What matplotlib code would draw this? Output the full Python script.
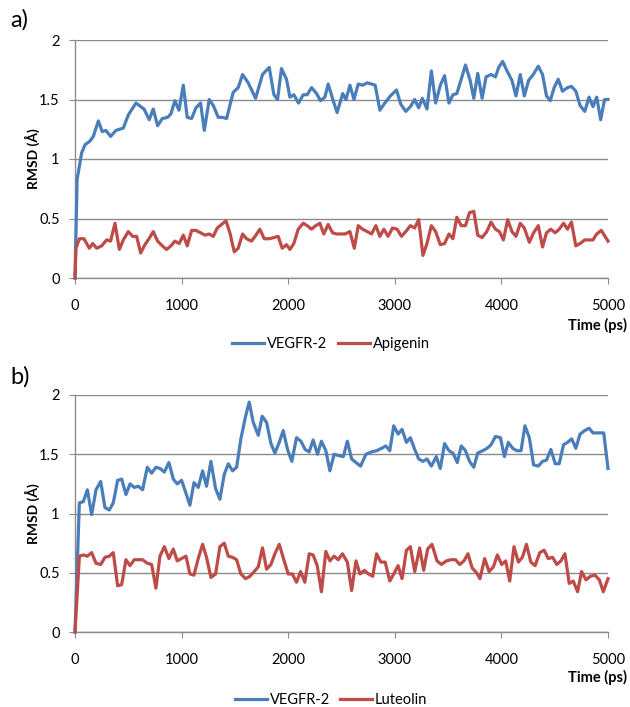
import matplotlib
matplotlib.use("Agg")
import matplotlib.pyplot as plt

# ---------------- Data ----------------
# Panel a) VEGFR-2 (with Apigenin)
a_vegfr_t = [0, 20, 62, 94, 140, 172, 219, 256, 290, 334, 384, 453, 500, 572, 647, 697, 734, 775, 819, 869,
             900, 937, 975, 1016, 1053, 1094, 1134, 1178, 1213, 1259, 1297, 1344, 1384, 1422, 1484, 1531, 1572,
             1625, 1694, 1759, 1822, 1866, 1900, 1937, 1984, 2016, 2053, 2097, 2141, 2178, 2219, 2266, 2303,
             2344, 2375, 2422, 2459, 2511, 2542, 2579, 2617, 2657, 2698, 2741, 2782, 2816, 2860, 2906, 2959,
             3016, 3056, 3103, 3146, 3187, 3224, 3258, 3302, 3343, 3383, 3427, 3467, 3508, 3545, 3582, 3623,
             3663, 3707, 3741, 3778, 3819, 3856, 3903, 3944, 3975, 4012, 4053, 4099, 4137, 4177, 4215, 4255,
             4299, 4346, 4386, 4423, 4458, 4495, 4533, 4573, 4620, 4657, 4698, 4738, 4782, 4822, 4859, 4894,
             4931, 4968, 5000]
a_vegfr_v = [0.0, 0.83, 1.05, 1.12, 1.15, 1.19, 1.32, 1.23, 1.24, 1.19, 1.24, 1.26, 1.37, 1.47, 1.42, 1.33,
             1.42, 1.28, 1.34, 1.35, 1.38, 1.49, 1.41, 1.62, 1.35, 1.34, 1.43, 1.47, 1.24, 1.50, 1.45, 1.35,
             1.35, 1.34, 1.56, 1.60, 1.71, 1.64, 1.51, 1.71, 1.77, 1.54, 1.50, 1.76, 1.67, 1.52, 1.54, 1.47,
             1.54, 1.54, 1.60, 1.55, 1.49, 1.52, 1.63, 1.49, 1.39, 1.55, 1.50, 1.62, 1.50, 1.63, 1.62, 1.64,
             1.63, 1.62, 1.41, 1.47, 1.53, 1.58, 1.46, 1.40, 1.44, 1.50, 1.43, 1.51, 1.42, 1.74, 1.47, 1.62,
             1.70, 1.47, 1.54, 1.55, 1.67, 1.79, 1.66, 1.51, 1.72, 1.51, 1.69, 1.71, 1.69, 1.77, 1.82, 1.74,
             1.66, 1.53, 1.71, 1.53, 1.66, 1.71, 1.78, 1.71, 1.53, 1.49, 1.60, 1.67, 1.57, 1.60, 1.61, 1.57,
             1.45, 1.40, 1.52, 1.44, 1.52, 1.33, 1.50, 1.50]

# Panel a) Apigenin
a_lig_t = [0, 9, 41, 84, 134, 166, 203, 250, 297, 334, 375, 416, 453, 500, 541, 578, 616, 656, 694, 734, 775,
           819, 859, 900, 937, 978, 1016, 1053, 1094, 1134, 1178, 1219, 1259, 1297, 1334, 1375, 1416, 1453,
           1494, 1531, 1572, 1609, 1656, 1697, 1734, 1775, 1822, 1866, 1906, 1944, 1984, 2016, 2053, 2094,
           2141, 2178, 2219, 2259, 2297, 2334, 2375, 2416, 2453, 2491, 2533, 2579, 2620, 2657, 2698, 2741,
           2782, 2822, 2860, 2897, 2937, 2978, 3022, 3062, 3103, 3146, 3187, 3224, 3264, 3302, 3343, 3383,
           3427, 3467, 3508, 3545, 3582, 3623, 3663, 3701, 3741, 3778, 3819, 3863, 3903, 3944, 3981, 4019,
           4059, 4099, 4137, 4177, 4215, 4262, 4302, 4346, 4386, 4423, 4464, 4505, 4542, 4583, 4620, 4657,
           4698, 4738, 4782, 4822, 4859, 4894, 4937, 5000]
a_lig_v = [0.0, 0.25, 0.33, 0.33, 0.25, 0.29, 0.25, 0.27, 0.32, 0.31, 0.46, 0.24, 0.32, 0.39, 0.35, 0.35,
           0.21, 0.28, 0.33, 0.39, 0.31, 0.27, 0.24, 0.27, 0.31, 0.29, 0.36, 0.27, 0.40, 0.40, 0.38, 0.36,
           0.37, 0.35, 0.42, 0.45, 0.48, 0.38, 0.22, 0.25, 0.37, 0.33, 0.31, 0.36, 0.41, 0.33, 0.33, 0.34,
           0.35, 0.25, 0.28, 0.24, 0.29, 0.41, 0.46, 0.44, 0.41, 0.44, 0.46, 0.37, 0.45, 0.38, 0.37, 0.37,
           0.37, 0.39, 0.25, 0.44, 0.41, 0.39, 0.37, 0.44, 0.35, 0.41, 0.35, 0.42, 0.41, 0.35, 0.39, 0.44,
           0.42, 0.49, 0.19, 0.29, 0.44, 0.39, 0.28, 0.29, 0.37, 0.33, 0.51, 0.44, 0.44, 0.55, 0.56, 0.36,
           0.34, 0.39, 0.47, 0.41, 0.39, 0.32, 0.49, 0.39, 0.35, 0.46, 0.42, 0.30, 0.38, 0.44, 0.26, 0.38,
           0.41, 0.38, 0.41, 0.46, 0.41, 0.47, 0.27, 0.29, 0.32, 0.32, 0.32, 0.37, 0.40, 0.31]

# Panel b) VEGFR-2 (with Luteolin)
b_vegfr_t = [0, 41, 78, 116, 156, 197, 241, 281, 322, 359, 400, 438, 478, 516, 556, 594, 634, 678, 719, 759,
             797, 838, 881, 922, 959, 1000, 1041, 1078, 1116, 1156, 1197, 1234, 1275, 1319, 1359, 1400, 1438,
             1478, 1516, 1556, 1600, 1634, 1672, 1719, 1756, 1797, 1838, 1875, 1916, 1953, 1994, 2034, 2078,
             2119, 2159, 2197, 2234, 2275, 2312, 2353, 2391, 2431, 2469, 2517, 2555, 2595, 2636, 2679, 2729,
             2782, 2829, 2876, 2916, 2953, 2990, 3031, 3068, 3109, 3146, 3187, 3224, 3264, 3302, 3343, 3389,
             3427, 3467, 3508, 3545, 3586, 3623, 3663, 3701, 3741, 3778, 3825, 3866, 3903, 3944, 3991, 4028,
             4065, 4106, 4143, 4184, 4221, 4262, 4302, 4346, 4386, 4423, 4464, 4505, 4542, 4583, 4620, 4660,
             4698, 4738, 4782, 4822, 4859, 4900, 4960, 5000]
b_vegfr_v = [0.0, 1.09, 1.10, 1.20, 0.99, 1.20, 1.27, 1.05, 1.03, 1.09, 1.28, 1.29, 1.16, 1.25, 1.22, 1.23,
             1.20, 1.39, 1.34, 1.39, 1.38, 1.35, 1.43, 1.29, 1.25, 1.28, 1.17, 1.07, 1.26, 1.22, 1.36, 1.23,
             1.44, 1.21, 1.12, 1.33, 1.42, 1.36, 1.39, 1.63, 1.82, 1.94, 1.77, 1.66, 1.82, 1.77, 1.59, 1.51,
             1.60, 1.70, 1.54, 1.44, 1.64, 1.61, 1.54, 1.52, 1.62, 1.50, 1.61, 1.53, 1.36, 1.50, 1.49, 1.48,
             1.61, 1.46, 1.43, 1.40, 1.50, 1.52, 1.53, 1.55, 1.57, 1.53, 1.74, 1.67, 1.71, 1.60, 1.64, 1.54,
             1.46, 1.44, 1.46, 1.40, 1.48, 1.38, 1.59, 1.53, 1.51, 1.43, 1.57, 1.53, 1.44, 1.39, 1.51, 1.53,
             1.55, 1.58, 1.65, 1.64, 1.48, 1.60, 1.55, 1.53, 1.53, 1.74, 1.64, 1.41, 1.40, 1.44, 1.45, 1.54,
             1.42, 1.42, 1.58, 1.60, 1.63, 1.55, 1.67, 1.70, 1.72, 1.68, 1.68, 1.68, 1.38]

# Panel b) Luteolin
b_lig_t = [0, 41, 78, 116, 156, 197, 241, 281, 322, 359, 400, 438, 478, 516, 556, 594, 634, 678, 719, 759,
           797, 838, 881, 922, 959, 1000, 1041, 1078, 1116, 1156, 1197, 1234, 1275, 1319, 1359, 1400, 1438,
           1478, 1516, 1556, 1600, 1641, 1681, 1719, 1759, 1797, 1838, 1875, 1916, 1959, 2000, 2038, 2078,
           2116, 2156, 2197, 2234, 2272, 2312, 2353, 2391, 2431, 2469, 2509, 2555, 2595, 2636, 2673, 2715,
           2753, 2793, 2829, 2869, 2910, 2953, 2990, 3031, 3068, 3109, 3146, 3187, 3233, 3271, 3308, 3349,
           3396, 3437, 3484, 3528, 3570, 3608, 3649, 3686, 3726, 3767, 3799, 3843, 3884, 3925, 3962, 4003,
           4040, 4078, 4118, 4159, 4197, 4235, 4276, 4316, 4360, 4401, 4439, 4480, 4520, 4558, 4596, 4636,
           4674, 4715, 4752, 4794, 4834, 4878, 4919, 4956, 5000]
b_lig_v = [0.0, 0.64, 0.65, 0.64, 0.67, 0.58, 0.57, 0.63, 0.64, 0.67, 0.39, 0.40, 0.61, 0.56, 0.61, 0.61,
           0.61, 0.58, 0.57, 0.37, 0.64, 0.72, 0.62, 0.70, 0.60, 0.62, 0.64, 0.49, 0.48, 0.62, 0.74, 0.63,
           0.46, 0.49, 0.72, 0.75, 0.64, 0.63, 0.61, 0.49, 0.45, 0.47, 0.51, 0.55, 0.71, 0.53, 0.57, 0.66,
           0.74, 0.61, 0.49, 0.49, 0.42, 0.51, 0.42, 0.66, 0.65, 0.56, 0.34, 0.68, 0.60, 0.64, 0.61, 0.66,
           0.59, 0.35, 0.60, 0.49, 0.52, 0.49, 0.47, 0.66, 0.59, 0.59, 0.43, 0.49, 0.56, 0.45, 0.69, 0.72,
           0.51, 0.71, 0.52, 0.70, 0.74, 0.60, 0.57, 0.60, 0.61, 0.61, 0.57, 0.60, 0.66, 0.54, 0.50, 0.45,
           0.62, 0.51, 0.55, 0.65, 0.57, 0.60, 0.43, 0.72, 0.59, 0.63, 0.74, 0.59, 0.56, 0.67, 0.69, 0.62,
           0.63, 0.57, 0.60, 0.66, 0.41, 0.43, 0.34, 0.51, 0.44, 0.47, 0.48, 0.44, 0.34, 0.45]

x_ticks = [0, 1000, 2000, 3000, 4000, 5000]
y_ticks = [0, 0.5, 1, 1.5, 2]
y_ticklabels = ["0", "0.5", "1", "1.5", "2"]
panel_labels = ["a)", "b)"]
ligand_names = ["Apigenin", "Luteolin"]
protein_name = "VEGFR-2"
x_label = "Time (ps)"
y_label = "RMSD (Å)"

# ---------------- Styling ----------------
plt.rcParams['font.family'] = ['Lato', 'DejaVu Sans']
BLUE = "#4A7EBB"
RED = "#BE4B48"
GRID = "#8C8C8C"

fig = plt.figure(figsize=(6.30, 7.07), dpi=100)
W, H = 630, 707

panels = [
    dict(box=(75, 40, 608, 278), t1=a_vegfr_t, v1=a_vegfr_v, t2=a_lig_t, v2=a_lig_v,
         label_y=20, xlab_y=325, leg_y=344),
    dict(box=(75, 395, 608, 632), t1=b_vegfr_t, v1=b_vegfr_v, t2=b_lig_t, v2=b_lig_v,
         label_y=377, xlab_y=677, leg_y=700),
]

for i, p in enumerate(panels):
    x0, y0, x1, y1 = p["box"]
    ax = fig.add_axes([x0 / W, 1 - y1 / H, (x1 - x0) / W, (y1 - y0) / H])
    l1, = ax.plot(p["t1"], p["v1"], color=BLUE, lw=2.3, solid_joinstyle='round', label=protein_name, zorder=3)
    l2, = ax.plot(p["t2"], p["v2"], color=RED, lw=2.3, solid_joinstyle='round', label=ligand_names[i], zorder=3)
    ax.set_xlim(0, 5000)
    ax.set_ylim(0, 2)
    ax.set_xticks(x_ticks)
    ax.set_yticks(y_ticks)
    ax.set_yticklabels(y_ticklabels)
    for s in ["top", "right"]:
        ax.spines[s].set_visible(False)
    for s in ["left", "bottom"]:
        ax.spines[s].set_color(GRID)
        ax.spines[s].set_linewidth(1.0)
    ax.grid(axis='y', color=GRID, lw=1.0, zorder=0)
    ax.set_axisbelow(True)
    ax.tick_params(axis='x', direction='out', length=4, color=GRID, labelsize=10.5, pad=11)
    ax.tick_params(axis='y', length=4, color=GRID, labelsize=10.5, pad=7)
    for ln in (l1, l2):
        ln.set_clip_on(False)
    ax.set_ylabel(y_label, fontsize=10, fontweight='bold', va='center')
    ax.yaxis.set_label_coords((32 - x0) / (x1 - x0), 0.5)

    fig.text(10 / W, 1 - p["label_y"] / H, panel_labels[i], fontsize=17, va='center', ha='left')
    fig.text(627 / W, 1 - p["xlab_y"] / H, x_label, fontsize=10.5, fontweight='bold', ha='right', va='center')
    fig.legend(handles=[l1, l2], loc='center', bbox_to_anchor=(331 / W, 1 - p["leg_y"] / H),
               ncol=2, frameon=False, fontsize=10.5, handlelength=2.2, columnspacing=0.7,
               handletextpad=0.2, borderpad=0.1)

fig.savefig("out.png", dpi=100)
